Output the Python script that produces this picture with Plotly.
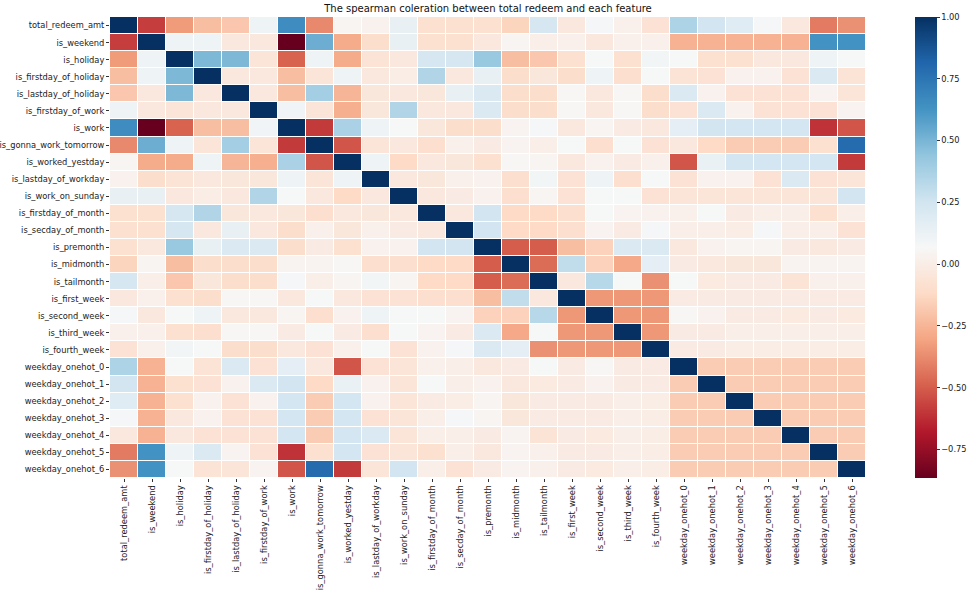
import plotly.graph_objects as go

features = [
    "total_redeem_amt", "is_weekend", "is_holiday", "is_firstday_of_holiday",
    "is_lastday_of_holiday", "is_firstday_of_work", "is_work", "is_gonna_work_tomorrow",
    "is_worked_yestday", "is_lastday_of_workday", "is_work_on_sunday", "is_firstday_of_month",
    "is_secday_of_month", "is_premonth", "is_midmonth", "is_tailmonth", "is_first_week",
    "is_second_week", "is_third_week", "is_fourth_week", "weekday_onehot_0",
    "weekday_onehot_1", "weekday_onehot_2", "weekday_onehot_3", "weekday_onehot_4",
    "weekday_onehot_5", "weekday_onehot_6",
]

# Upper-triangle values: each list holds correlations with the features after it
up_total_redeem_amt = [-0.58, -0.33, -0.22, -0.19, 0.11, 0.65, -0.38, 0.05, 0.03, 0.14, -0.08, -0.08, -0.08,
                       -0.14, 0.23, -0.03, 0.08, 0.02, -0.07, 0.36, 0.25, 0.18, 0.08, -0.03, -0.42, -0.36]
up_is_weekend = [0.11, 0.11, -0.03, -0.03, -0.865, 0.53, -0.28, -0.10, 0.14, -0.08, -0.08, -0.03, 0.05,
                 0.01, 0.02, -0.03, 0.02, 0.02, -0.26, -0.26, -0.26, -0.26, -0.26, 0.63, 0.63]
up_is_holiday = [0.49, 0.49, -0.05, -0.48, 0.11, -0.28, -0.06, -0.03, 0.23, 0.23, 0.42, -0.22, -0.19,
                 -0.08, 0.07, -0.08, 0.09, 0.07, -0.08, -0.08, -0.03, -0.03, 0.11, 0.07]
up_is_firstday_of_holiday = [-0.03, -0.03, -0.22, -0.05, 0.11, -0.03, 0.00, 0.35, -0.03, 0.14, -0.10, -0.04,
                             -0.10, 0.11, -0.09, 0.07, -0.06, -0.07, 0.03, 0.03, -0.07, 0.21, -0.06]
up_is_lastday_of_holiday = [-0.03, -0.22, 0.39, -0.25, -0.04, -0.03, -0.04, 0.14, 0.21, -0.10, -0.10, 0.06,
                            -0.03, 0.06, -0.10, 0.21, 0.03, -0.07, -0.07, -0.07, 0.04, -0.05]
up_is_firstday_of_work = [0.10, -0.05, -0.27, -0.04, 0.35, -0.03, -0.03, 0.21, -0.10, -0.10, 0.06, -0.03,
                          0.06, -0.10, -0.07, 0.21, 0.03, -0.07, -0.07, -0.07, 0.04]
up_is_work = [-0.59, 0.37, 0.11, 0.07, -0.04, -0.10, -0.10, 0.04, 0.08, -0.03, 0.05, -0.01, -0.03, 0.16,
              0.25, 0.24, 0.24, 0.24, -0.61, -0.52]
up_is_gonna_work_tomorrow = [-0.52, -0.05, -0.03, -0.09, 0.02, -0.01, 0.04, 0.01, 0.07, -0.09, 0.07, -0.07,
                             -0.03, -0.12, -0.17, -0.17, -0.17, -0.08, 0.79]
up_is_worked_yestday = [0.11, -0.12, -0.03, -0.04, -0.08, 0.06, 0.05, -0.03, 0.03, -0.01, 0.02, -0.52, 0.13,
                        0.24, 0.24, 0.24, 0.24, -0.59]
up_is_lastday_of_workday = [-0.03, -0.04, 0.02, 0.03, -0.09, 0.09, -0.07, 0.11, -0.09, 0.07, -0.07, 0.03,
                            0.03, -0.07, 0.21, -0.07, -0.05]
up_is_work_on_sunday = [-0.03, -0.01, 0.03, -0.09, 0.05, -0.07, 0.07, 0.07, -0.07, -0.05, -0.05, -0.05,
                        -0.05, -0.05, -0.05, 0.25]
up_is_firstday_of_month = [-0.03, 0.25, -0.12, -0.12, -0.09, 0.07, 0.04, 0.03, 0.02, 0.07, -0.01, 0.01,
                           0.01, -0.085, 0.01]
up_is_secday_of_month = [0.25, -0.12, -0.12, -0.09, 0.04, -0.01, 0.08, 0.01, 0.01, 0.00, 0.08, 0.01, 0.01, -0.07]
up_is_premonth = [-0.50, -0.50, -0.22, -0.15, 0.21, 0.21, -0.03, 0.03, 0.05, 0.05, -0.01, -0.03, -0.01]
up_is_midmonth = [-0.46, 0.30, -0.15, -0.29, 0.16, -0.01, -0.03, -0.04, -0.04, 0.04, 0.04, 0.04]
up_is_tailmonth = [-0.03, 0.33, 0.07, -0.36, 0.07, -0.02, -0.01, -0.01, -0.06, 0.02, 0.02]
up_is_first_week = [-0.34, -0.34, -0.34, -0.01, -0.01, -0.01, -0.01, -0.01, -0.01, -0.01]
up_is_second_week = [-0.34, -0.34, 0.06, 0.03, -0.01, -0.01, -0.02, -0.01, -0.02]
up_is_third_week = [-0.34, -0.01, -0.01, 0.01, 0.01, 0.01, 0.01, 0.01]
up_is_fourth_week = [-0.01, -0.01, 0.00, 0.00, 0.00, 0.00, 0.00]
up_weekday_onehot_0 = [-0.17, -0.17, -0.17, -0.17, -0.17, -0.17]
up_weekday_onehot_1 = [-0.17, -0.17, -0.17, -0.17, -0.17]
up_weekday_onehot_2 = [-0.17, -0.17, -0.17, -0.17]
up_weekday_onehot_3 = [-0.17, -0.17, -0.17]
up_weekday_onehot_4 = [-0.17, -0.17]
up_weekday_onehot_5 = [-0.17]

upper_rows = [
    up_total_redeem_amt, up_is_weekend, up_is_holiday, up_is_firstday_of_holiday,
    up_is_lastday_of_holiday, up_is_firstday_of_work, up_is_work, up_is_gonna_work_tomorrow,
    up_is_worked_yestday, up_is_lastday_of_workday, up_is_work_on_sunday, up_is_firstday_of_month,
    up_is_secday_of_month, up_is_premonth, up_is_midmonth, up_is_tailmonth, up_is_first_week,
    up_is_second_week, up_is_third_week, up_is_fourth_week, up_weekday_onehot_0,
    up_weekday_onehot_1, up_weekday_onehot_2, up_weekday_onehot_3, up_weekday_onehot_4,
    up_weekday_onehot_5, [],
]

n = len(features)
z = [[1.0] * n for _ in range(n)]
for i, row in enumerate(upper_rows):
    for k, v in enumerate(row):
        j = i + 1 + k
        z[i][j] = v
        z[j][i] = v

cbar_ticks = [-0.75, -0.5, -0.25, 0.0, 0.25, 0.5, 0.75, 1.0]

rdbu = ["#67001f", "#b2182b", "#d6604d", "#f4a582", "#fddbc7", "#f7f7f7",
        "#d1e5f0", "#92c5de", "#4393c3", "#2166ac", "#053061"]
colorscale = [[i / 10, c] for i, c in enumerate(rdbu)]

zmin = min(min(r) for r in z)
zmax = max(max(r) for r in z)

FONT = "DejaVu Sans, Arial, sans-serif"

fig = go.Figure(go.Heatmap(
    z=z, x=features, y=features,
    colorscale=colorscale, zmin=zmin, zmax=zmax,
    xgap=1, ygap=1,
    colorbar=dict(
        x=1.065, xanchor="left", y=0.5, yanchor="middle",
        len=1.0, lenmode="fraction", thickness=22, ypad=0, xpad=0,
        outlinewidth=0, ticks="outside", ticklen=3, tickwidth=1, tickcolor="#333",
        tickvals=cbar_ticks, tickformat=".2f",
        tickfont=dict(family=FONT, size=8.3, color="#222"),
    ),
))

fig.update_layout(
    width=980, height=601,
    margin=dict(l=110, r=114, t=17, b=123, autoexpand=False),
    paper_bgcolor="white", plot_bgcolor="white",
    font=dict(family=FONT, size=8.3, color="#222"),
    title=dict(
        text="The spearman coleration between total redeem and each feature",
        x=0.5, xref="paper", xanchor="center",
        y=1 - 8 / 601, yref="container", yanchor="middle",
        font=dict(family=FONT, size=10, color="#111"),
    ),
    xaxis=dict(
        tickmode="array", tickvals=features, ticktext=features,
        tickangle=-90, ticks="outside", ticklen=3, tickcolor="#333",
        showgrid=False, zeroline=False, showline=False, automargin=False,
        tickfont=dict(family=FONT, size=8.3, color="#222"),
    ),
    yaxis=dict(
        tickmode="array", tickvals=features, ticktext=features,
        autorange="reversed", ticks="outside", ticklen=3, tickcolor="#333",
        showgrid=False, zeroline=False, showline=False, automargin=False,
        tickfont=dict(family=FONT, size=8.3, color="#222"),
    ),
)

fig.write_html(
    "out.html",
    config={"displayModeBar": False},
    post_script="document.body.style.margin='0';document.body.style.overflow='hidden';",
)
